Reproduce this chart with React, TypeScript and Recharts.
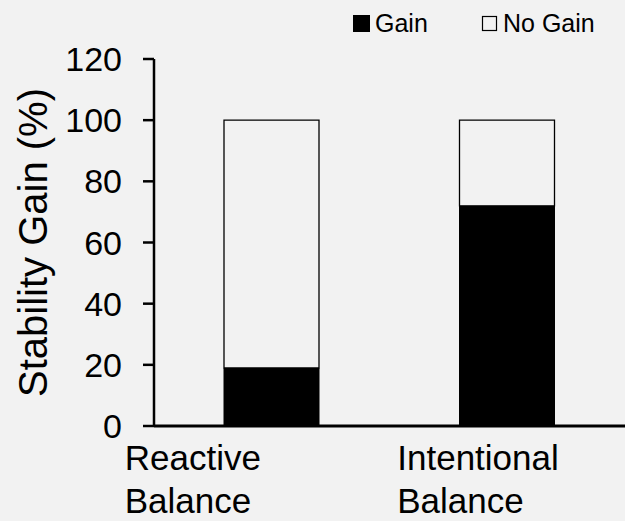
import React from 'react';
import { BarChart, Bar, XAxis, YAxis, Label } from 'recharts';

const categories = ['Reactive Balance', 'Intentional Balance'];
const gainValues = [19, 72];
const noGainValues = [81, 28];
const yTicks = [0, 20, 40, 60, 80, 100, 120];
const seriesNames = ['Gain', 'No Gain'];

const data = categories.map((c, i) => ({ name: c, gain: gainValues[i], noGain: noGainValues[i] }));

const FONT = '"Liberation Sans", Arial, sans-serif';
const BG = '#f2f2f2';

const labelShift: Record<string, number> = {
  'Reactive Balance': -147,
  'Intentional Balance': -110,
};

const XTick = (props: any) => {
  const { x, y, payload } = props;
  const lines = String(payload.value).split(' ');
  const dx = labelShift[payload.value] ?? 0;
  return (
    <g>
      {lines.map((l, i) => (
        <text key={i} x={x + dx} y={y + 44 + i * 43} textAnchor="start" fontSize={35} fontFamily={FONT} fill="#000">
          {l}
        </text>
      ))}
    </g>
  );
};

const YLabel = (props: any) => {
  const vb = props.viewBox || {};
  const cx = 47;
  const cy = (vb.y ?? 59) + (vb.height ?? 367) / 2;
  return (
    <text x={cx} y={cy} transform={`rotate(-90 ${cx} ${cy})`} textAnchor="middle" fontSize={40} fontFamily={FONT} fill="#000">
      Stability Gain (%)
    </text>
  );
};

export default function App() {
  return (
    <div style={{ position: 'absolute', left: 0, top: 0, width: 625, height: 521, background: BG, overflow: 'hidden' }}>
      <svg width={625} height={50} style={{ position: 'absolute', left: 0, top: 0 }}>
        {seriesNames.map((n, i) => {
          const x0 = i === 0 ? 353 : 482;
          return (
            <g key={n}>
              {i === 0 ? (
                <rect x={x0} y={15} width={17} height={17} fill="#000" />
              ) : (
                <rect x={x0 + 0.5} y={16.5} width={14} height={14} fill={BG} stroke="#000" strokeWidth={1.2} />
              )}
              <text x={x0 + (i === 0 ? 22 : 21)} y={32} fontSize={25} fontFamily={FONT} fill="#000">
                {n}
              </text>
            </g>
          );
        })}
      </svg>
      <BarChart width={625} height={521} data={data} margin={{ top: 59, right: 0, bottom: 0, left: 0 }} style={{ position: 'absolute', left: 0, top: 0 }}>
        <XAxis
          dataKey="name"
          height={95}
          tickLine={false}
          tickSize={0}
          tickMargin={0}
          axisLine={{ stroke: '#000', strokeWidth: 3 }}
          tick={<XTick />}
          interval={0}
        />
        <YAxis
          width={154}
          domain={[0, 120]}
          ticks={yTicks}
          tickSize={11}
          tickMargin={21}
          axisLine={{ stroke: '#000', strokeWidth: 2.5 }}
          tickLine={{ stroke: '#000', strokeWidth: 2.5 }}
          tick={{ fontSize: 34, fontFamily: FONT, fill: '#000' }}
        >
          <Label content={<YLabel />} />
        </YAxis>
        <Bar dataKey="gain" name={seriesNames[0]} stackId="a" barSize={95} fill="#000" stroke="#000" strokeWidth={1} isAnimationActive={false} />
        <Bar dataKey="noGain" name={seriesNames[1]} stackId="a" barSize={95} fill={BG} stroke="#000" strokeWidth={1.3} isAnimationActive={false} />
      </BarChart>
    </div>
  );
}
